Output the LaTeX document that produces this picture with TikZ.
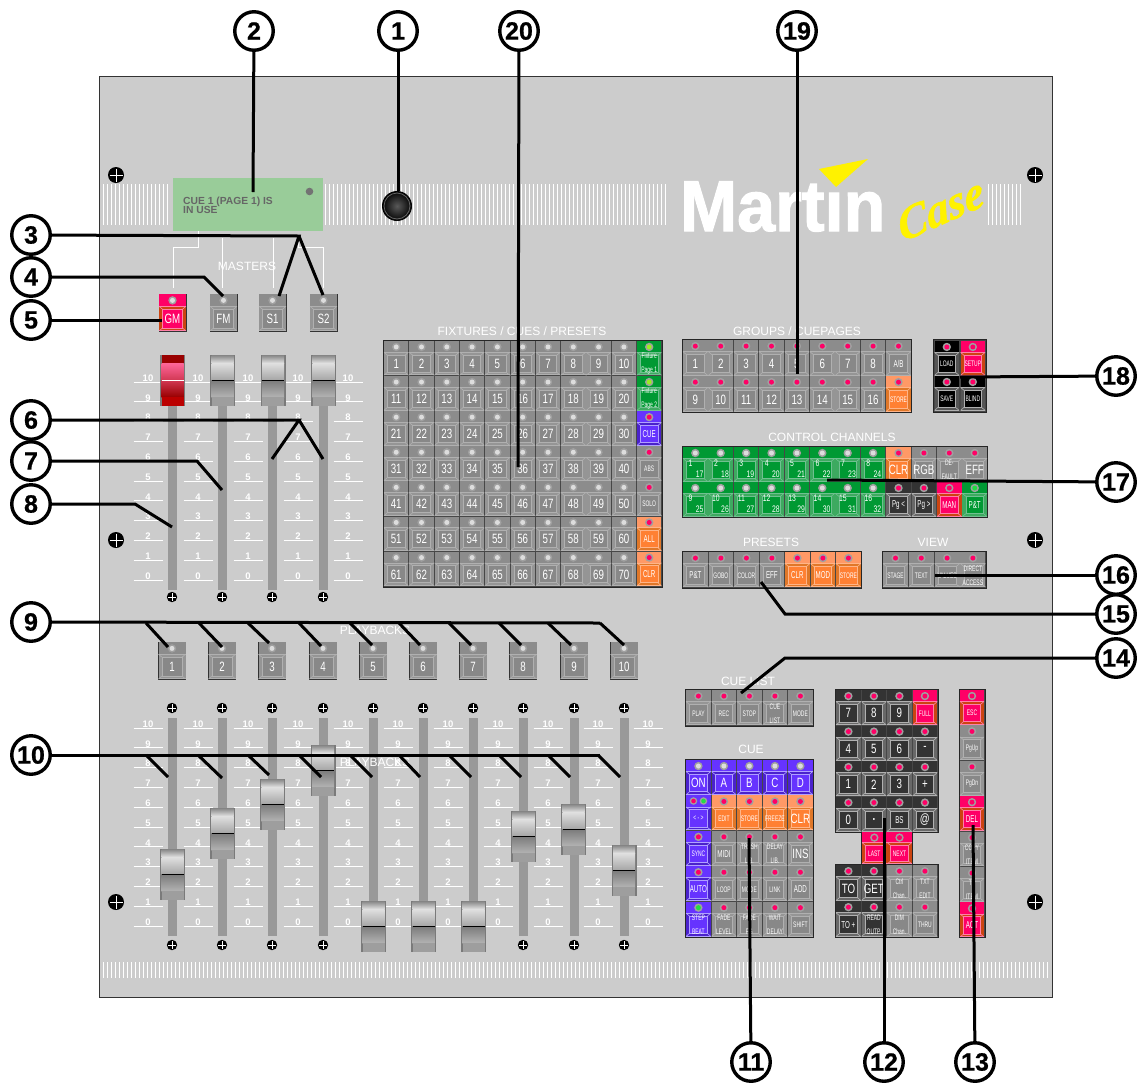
\documentclass[tikz,border=0pt]{standalone}
\usepackage{fontspec}
\setmainfont{Liberation Sans}
\newfontfamily\condf[FakeStretch=0.72]{Liberation Sans}
\newfontfamily\condn[FakeStretch=0.62]{Liberation Sans}
\newfontfamily\logof[UprightFont={* Bold},FakeBold=1.6]{Liberation Sans}
\newfontfamily\numf[UprightFont={* Bold},FakeBold=0.8]{Liberation Sans}
\newfontfamily\casef[UprightFont={* Bold Italic},FakeBold=1.2,FakeSlant=0.2]{Liberation Serif}
\usetikzlibrary{calc}
\definecolor{panelc}{HTML}{CCCCCC}
% schemes: T top band, B body, F face, E face edge
\definecolor{grayT}{HTML}{8C8C8C}\definecolor{grayB}{HTML}{959595}\definecolor{grayF}{HTML}{888888}\definecolor{grayE}{HTML}{B0B0B0}
\definecolor{greenT}{HTML}{009933}\definecolor{greenB}{HTML}{3DAA60}\definecolor{greenF}{HTML}{009933}\definecolor{greenE}{HTML}{70C090}
\definecolor{purpT}{HTML}{6633FF}\definecolor{purpB}{HTML}{4A22CC}\definecolor{purpF}{HTML}{6633FF}\definecolor{purpE}{HTML}{B0A0FF}
\definecolor{oranT}{HTML}{FF9966}\definecolor{oranB}{HTML}{E07728}\definecolor{oranF}{HTML}{FF8033}\definecolor{oranE}{HTML}{FFB488}
\definecolor{pinkT}{HTML}{FF0066}\definecolor{pinkB}{HTML}{CC4411}\definecolor{pinkF}{HTML}{FF0066}\definecolor{pinkE}{HTML}{FF80A8}
\definecolor{darkT}{HTML}{333333}\definecolor{darkB}{HTML}{686868}\definecolor{darkF}{HTML}{333333}\definecolor{darkE}{HTML}{B0B0B0}
\definecolor{blakT}{HTML}{000000}\definecolor{blakB}{HTML}{555555}\definecolor{blakF}{HTML}{000000}\definecolor{blakE}{HTML}{B0B0B0}
\definecolor{ledG}{HTML}{DDDDDD}\definecolor{ledP}{HTML}{FF0066}\definecolor{ledL}{HTML}{99EE22}\definecolor{ledV}{HTML}{22DD44}\definecolor{ledR}{HTML}{A0A0A0}
\definecolor{dispc}{HTML}{99CC99}
\newcounter{bn}
\newcommand\smf{\condn\fontsize{8}{8.6}\selectfont}
\newcommand\mdf{\condn\fontsize{10}{10.5}\selectfont}
\newcommand\twol[2]{\smf #1\\\smf #2}
\tikzset{
  x=1pt,y=-1pt,
  btxt/.style={text=white,font=\condf\fontsize{13.5}{14}\selectfont,inner sep=0pt,align=center},
  head/.style={text=white,font=\fontsize{12}{13}\selectfont,inner sep=0pt},
  callout/.style={circle,draw=black,line width=3.4pt,fill=white,minimum size=38.5pt,inner sep=0pt,font=\numf\fontsize{25}{25}\selectfont},
  lead/.style={draw=black,line width=3pt,line join=miter},
  wire/.style={draw=white,line width=1pt},
  grp/.style={fill=black!72,draw=black!85,line width=1pt},
  sclab/.style={text=white,font=\bfseries\fontsize{9.5}{10}\selectfont,inner sep=0pt},
}
% x y w h scheme led label
\newcommand\Btn[7]{%
  \stepcounter{bn}%
  \colorlet{curT}{#5T}\colorlet{curB}{#5B}\colorlet{curF}{#5F}\colorlet{curE}{#5E}%
  \fill[curB] (#1,#2) rectangle ++(#3,#4);
  \fill[curT] (#1,#2) rectangle ++(#3,0.33*#4);
  \draw[curE,line width=.6pt] (#1,#2+#4-.5) -- ++(#3,0);
  \draw[curE,line width=.6pt] (#1,#2+0.33*#4) -- ++(#3,0);
  \fill[curF] (#1+3.5,#2+0.33*#4+3) rectangle (#1+#3-3.5,#2+#4-3);
  \draw[curE,line width=.8pt] (#1+3.5,#2+0.33*#4+3) rectangle (#1+#3-3.5,#2+#4-3);
  \draw[curE,line width=.6pt] (#1,#2+0.33*#4) -- ++(3.5,3) (#1+#3,#2+0.33*#4) -- ++(-3.5,3)
     (#1,#2+#4) -- ++(3.5,-3) (#1+#3,#2+#4) -- ++(-3.5,-3);
  \fill[ledR] (#1+0.5*#3,#2+0.165*#4+.3) circle (4.2);
  \fill[#6] (#1+0.5*#3,#2+0.165*#4+.3) circle (2.5);
  \node[btxt] (b\arabic{bn}) at (#1+0.5*#3,#2+0.665*#4) {#7};
}
\newcommand\ChBtn[6]{%
  \Btn{#1}{#2}{#3}{#4}{green}{ledG}{}
  \node[btxt,font=\condf\fontsize{9.5}{10}\selectfont] (ba\arabic{bn}) at (#1+7.5,#2+16) {#5};
  \node[btxt,font=\condf\fontsize{9.5}{10}\selectfont] (bc\arabic{bn}) at (#1+#3-8,#2+27.5) {#6};
}
% x top
\newcommand\Cap[2]{%
  \fill[black!52] (#1-12.5,#2) rectangle ++(25,50.5);
  \shade[top color=black!48,bottom color=black!12] (#1-11,#2) rectangle (#1+11,#2+8);
  \shade[top color=black!12,bottom color=black!35] (#1-11,#2+8) rectangle (#1+11,#2+25);
  \shade[top color=black!52,bottom color=black!30] (#1-11,#2+25) rectangle (#1+11,#2+42);
  \fill[black!38] (#1-11,#2+42) rectangle (#1+11,#2+50.5);
  \draw[black,line width=1pt] (#1-11,#2+25.5) -- (#1+11,#2+25.5);
}
\definecolor{capa}{HTML}{FF6699}\definecolor{capb}{HTML}{990000}\definecolor{capc}{HTML}{BB0000}
\newcommand\RedCap[2]{%
  \fill[black!52] (#1-12.5,#2) rectangle ++(25,50.5);
  \fill[capb] (#1-11,#2) rectangle (#1+11,#2+8);
  \shade[top color=capa,bottom color=capa!55!capb] (#1-11,#2+8) rectangle (#1+11,#2+25);
  \shade[top color=capa!55!capb,bottom color=capb] (#1-11,#2+25) rectangle (#1+11,#2+42);
  \fill[capc] (#1-11,#2+42) rectangle (#1+11,#2+50.5);
  \draw[white,line width=.6pt] (#1-11,#2+25.5) -- (#1+11,#2+25.5);
}
\newcommand\Scale[2]{%
  \foreach \n in {0,...,10}{%
    \pgfmathsetmacro\yy{#2+19.8*(10-\n)}%
    \node[sclab] at (#1,\yy) {\n};
    \draw[white,line width=.8pt] (#1-14.5,\yy+4) -- ++(29.5,0);
  }%
}
\newcommand\Screw[3][5.2]{%
  \fill[black] (#2,#3) circle (#1);
  \draw[white,line width=.8pt] (#2-#1+1.5,#3) -- (#2+#1-1.5,#3) (#2,#3-#1+1.5) -- (#2,#3+#1-1.5);
}
\begin{document}
\begin{tikzpicture}
\useasboundingbox (0,0) rectangle (1142,1082);
\fill[white] (0,0) rectangle (1142,1082);
\draw[fill=panelc,draw=black!80,line width=.8pt] (99,76) rectangle (1052,997);
% tick strips
\foreach \x in {103,107,...,170,325,329,...,666,988,992,...,1020} \draw[white,line width=1pt] (\x,184) -- (\x,225);
\foreach \x in {103,107,...,1049} \draw[white,line width=1pt] (\x,962) -- (\x,978);
% screws
\foreach \x/\y in {116/175,1035/175,116/540,1035/540,116/902,1035/902} {\Screw[8]{\x}{\y}}
\foreach \x in {172,222,272,323} {\Screw{\x}{597}}
\foreach \x in {172,222,272,323,373,423,473,523,574,624} {\Screw{\x}{708}\Screw{\x}{945}}
% display
\fill[dispc] (173,178) rectangle (323,231);
\node[inner sep=0pt,anchor=north west,align=left,text=black!60,font=\bfseries\fontsize{10.3}{9.4}\selectfont] (dtext) at (183,196.5) {CUE 1 (PAGE 1) IS\\IN USE};
\fill[black!55] (309.5,191.5) circle (3.8);
% master wires
\draw[wire] (198,231) -- (198,247) -- (173,247) -- (173,288);
\draw[wire] (222,238) -- (222,288);
\draw[wire] (273,238) -- (273,288);
\draw[wire] (298,238) -- (298,247) -- (323,247) -- (323,288);
\node[head] (mast) at (247,266) {MASTERS};
% knob
\shade[inner color=black!65,outer color=black] (397,206) circle (15);
\draw[black!60,line width=.8pt] (397,206) circle (13);
% logo
\node[inner sep=0pt,anchor=base west,text=white,font=\logof\fontsize{72}{72}\selectfont,xscale=.95,transform shape] (logo) at (680,231) {Martin};
\fill[panelc] (826,170) rectangle (858,192);
\fill[yellow] (819,169) -- (868,159) -- (836,187) -- cycle;
\node[inner sep=0pt,text=yellow,rotate=24,font=\casef\fontsize{46}{46}\selectfont] (case) at (938,210) {Case};
% master buttons
\foreach \x/\s/\t in {159/pink/GM,210/gray/FM,259/gray/S1,310/gray/S2}{
  \draw[black!80,line width=.8pt] (\x,294) rectangle ++(27,37);
  \Btn{\x}{294}{27}{37}{\s}{ledG}{\t}
}
% tracks + scales masters
\foreach \x in {172,222,272,323} \fill[black!40] (\x-4.5,358) rectangle (\x+4.5,590);
\foreach \c in {148,198,248,298,348} {\Scale{\c}{378}}
\RedCap{172.5}{355}
\Cap{222.5}{355}\Cap{273}{355}\Cap{323.5}{355}
% playback
\foreach \x in {172,222,272,323,373,423,473,523,574,624} {
  \fill[black!40] (\x-4.5,718) rectangle (\x+4.5,936);
}
\foreach \c in {148,198,...,648} {\Scale{\c}{724}}
\foreach \x/\t in {172/1,222/2,272/3,323/4,373/5,423/6,473/7,523/8,574/9,624/10}{
  \draw[black!80,line width=.8pt] (\x-13.5,642) rectangle ++(27,37);
  \Btn{\x-13.5}{642}{27}{37}{gray}{ledG}{\t}
}
\node[head] (pb1) at (375,630) {PLAYBACKS};
\node[head] (pb2) at (375,762) {PLAYBACKS};
\foreach \x/\y in {172.5/849,222.5/808,272.5/779,323/745,373.5/901,423.5/901,473.5/901,523.5/811,573.5/804,624/845} {\Cap{\x}{\y}}
% Fixtures
\node[head] (hf) at (522,331) {FIXTURES / CUES / PRESETS};
\fill[grp] (383,340) rectangle (662,587);
\foreach \r in {0,...,6}{
  \foreach \c in {0,...,9}{
    \pgfmathtruncatemacro\nn{\r*10+\c+1}
    \pgfmathsetmacro\xx{384+25.3*\c}
    \pgfmathsetmacro\yy{341+35.1*\r}
    \Btn{\xx}{\yy}{24.4}{34.2}{gray}{ledG}{\nn}
  }
}
\foreach \r/\s/\l/\t in {0/green/ledL/{\twol{Fixture}{Page 1}},1/green/ledL/{\twol{Fixture}{Page 2}},2/purp/ledP/{\mdf CUE},3/gray/ledP/{\smf ABS},4/gray/ledP/{\smf SOLO},5/oran/ledP/{\mdf ALL},6/oran/ledP/{\mdf CLR}}{
  \pgfmathsetmacro\yy{341+35.1*\r}
  \Btn{637}{\yy}{24.4}{34.2}{\s}{\l}{\t}
}
% Groups
\node[head] (hg) at (797,331) {GROUPS / CUEPAGES};
\fill[grp] (682,339) rectangle (911,412);
\foreach \c/\t in {0/1,1/2,2/3,3/4,4/5,5/6,6/7,7/8,8/{\mdf A/B}}{
  \pgfmathsetmacro\xx{683+25.4*\c}
  \Btn{\xx}{340}{24.6}{35.4}{gray}{ledP}{\t}
}
\foreach \c/\s/\t in {0/gray/9,1/gray/10,2/gray/11,3/gray/12,4/gray/13,5/gray/14,6/gray/15,7/gray/16,8/oran/{\smf STORE}}{
  \pgfmathsetmacro\xx{683+25.4*\c}
  \Btn{\xx}{376}{24.6}{35.4}{\s}{ledP}{\t}
}
% small black group
\fill[grp] (933,339) rectangle (986,412);
\Btn{934.5}{341}{24.6}{34.4}{blak}{ledP}{\smf LOAD}
\Btn{960.5}{341}{24.6}{34.4}{pink}{ledP}{\smf SETUP}
\Btn{934.5}{376}{24.6}{34.4}{blak}{ledP}{\smf SAVE}
\Btn{960.5}{376}{24.6}{34.4}{blak}{ledP}{\smf BLIND}
% Control channels
\node[head] (hc) at (832,437) {CONTROL CHANNELS};
\fill[grp] (682,446) rectangle (987,517);
\foreach \c/\a/\b in {0/1/17,1/2/18,2/3/19,3/4/20,4/5/21,5/6/22,6/7/23,7/8/24}{
  \pgfmathsetmacro\xx{683+25.4*\c}
  \ChBtn{\xx}{447}{24.6}{34.6}{\a}{\b}
}
\foreach \c/\a/\b in {0/9/25,1/10/26,2/11/27,3/12/28,4/13/29,5/14/30,6/15/31,7/16/32}{
  \pgfmathsetmacro\xx{683+25.4*\c}
  \ChBtn{\xx}{482}{24.6}{34.6}{\a}{\b}
}
\foreach \c/\s/\l/\t in {8/oran/ledP/CLR,9/gray/ledP/RGB,10/gray/ledP/{\twol{DE-}{FAULT}},11/gray/ledP/EFF}{
  \pgfmathsetmacro\xx{683+25.4*\c}
  \Btn{\xx}{447}{24.6}{34.6}{\s}{\l}{\t}
}
\foreach \c/\s/\l/\t in {8/dark/ledP/{\mdf Pg <},9/dark/ledP/{\mdf Pg >},10/pink/ledP/{\mdf MAN},11/green/ledV/{\mdf P\&T}}{
  \pgfmathsetmacro\xx{683+25.4*\c}
  \Btn{\xx}{482}{24.6}{34.6}{\s}{\l}{\t}
}
% Presets
\node[head] (hp) at (771,542) {PRESETS};
\fill[grp] (682,551) rectangle (861,588);
\foreach \c/\s/\t in {0/gray/{\mdf P\&T},1/gray/{\smf GOBO},2/gray/{\smf COLOR},3/gray/{\mdf EFF},4/oran/{\mdf CLR},5/oran/{\mdf MOD},6/oran/{\smf STORE}}{
  \pgfmathsetmacro\xx{683+25.5*\c}
  \Btn{\xx}{552}{24.8}{35}{\s}{ledP}{\t}
}
% View
\node[head] (hv) at (933,542) {VIEW};
\fill[grp] (882,551) rectangle (986,588);
\foreach \c/\t in {0/{\smf STAGE},1/{\smf TEXT},2/{\smf VALUES},3/{\twol{DIRECT}{ACCESS}}}{
  \pgfmathsetmacro\xx{883+25.8*\c}
  \Btn{\xx}{552}{25}{35}{gray}{ledP}{\t}
}
% Cue list
\node[head] (hl) at (748,681) {CUE LIST};
\fill[grp] (685,689) rectangle (813,726);
\foreach \c/\t in {0/{\smf PLAY},1/{\smf REC},2/{\smf STOP},3/{\twol{CUE}{LIST}},4/{\smf MODE}}{
  \pgfmathsetmacro\xx{686+25.5*\c}
  \Btn{\xx}{690}{24.8}{35}{gray}{ledP}{\t}
}
% Cue
\node[head] (hq) at (751,749) {CUE};
\fill[grp] (685,759) rectangle (813,937);
\foreach \c/\t in {0/ON,1/A,2/B,3/C,4/D}{
  \pgfmathsetmacro\xx{686+25.5*\c}
  \Btn{\xx}{760}{24.8}{34.8}{purp}{ledG}{\t}
}
\foreach \c/\s/\t in {0/purp/{\smf < - >},1/oran/{\smf EDIT},2/oran/{\smf STORE},3/oran/{\smf FREEZE},4/oran/CLR}{
  \pgfmathsetmacro\xx{686+25.5*\c}
  \Btn{\xx}{795.4}{24.8}{34.8}{\s}{ledP}{\t}
}
\fill[purpT] (687,796) rectangle (710,806);
\fill[ledR] (693.5,801) circle (3.8);\fill[ledP] (693.5,801) circle (2.3);
\fill[ledR] (703.5,801) circle (3.8);\fill[ledV] (703.5,801) circle (2.3);
\foreach \c/\s/\t in {0/purp/{\smf SYNC},1/gray/{\mdf MIDI},2/gray/{\twol{TRASH}{LIB.}},3/gray/{\twol{DELAY}{LIB.}},4/gray/INS}{
  \pgfmathsetmacro\xx{686+25.5*\c}
  \Btn{\xx}{830.8}{24.8}{34.8}{\s}{ledP}{\t}
}
\foreach \c/\s/\t in {0/purp/{\mdf AUTO},1/gray/{\smf LOOP},2/gray/{\smf MODE},3/gray/{\smf LINK},4/gray/{\mdf ADD}}{
  \pgfmathsetmacro\xx{686+25.5*\c}
  \Btn{\xx}{866.2}{24.8}{34.8}{\s}{ledP}{\t}
}
\foreach \c/\s/\l/\t in {0/purp/ledV/{\twol{STEP}{BEAT}},1/gray/ledP/{\twol{FADE}{LEVEL}},2/gray/ledP/{\twol{FADE}{FG}},3/gray/ledP/{\twol{WAIT}{DELAY}},4/gray/ledP/{\smf SHIFT}}{
  \pgfmathsetmacro\xx{686+25.5*\c}
  \Btn{\xx}{901.6}{24.8}{34.8}{\s}{\l}{\t}
}
% Keypad
\fill[grp] (835,689) rectangle (938,832);
\fill[grp] (861.5,832) rectangle (912,865);
\fill[grp] (835,864) rectangle (938,937);
\foreach \r/\y/\a/\b/\cc/\d/\s in {0/690/7/8/9/{\smf FULL}/pink,1/725.5/4/5/6/-/dark,2/761/1/2/3/+/dark,3/796.5/0/{\textbf{.}}/{\mdf BS}/@/dark}{
  \Btn{836}{\y}{24.8}{35}{dark}{ledP}{\a}
  \Btn{861.5}{\y}{24.8}{35}{dark}{ledP}{\b}
  \Btn{887}{\y}{24.8}{35}{dark}{ledP}{\cc}
  \Btn{912.5}{\y}{24.8}{35}{\s}{ledP}{\d}
}
\Btn{862}{832}{24.6}{32}{pink}{ledP}{\smf LAST}
\Btn{887.2}{832}{24.6}{32}{pink}{ledP}{\smf NEXT}
\Btn{836}{865}{24.8}{35.5}{dark}{ledP}{TO}
\Btn{861.5}{865}{24.8}{35.5}{dark}{ledP}{GET}
\Btn{887}{865}{24.8}{35.5}{gray}{ledP}{\twol{Ctrl}{Chan.}}
\Btn{912.5}{865}{24.8}{35.5}{gray}{ledP}{\twol{TXT}{EDIT}}
\Btn{836}{901}{24.8}{35.5}{dark}{ledP}{\mdf TO +}
\Btn{861.5}{901}{24.8}{35.5}{dark}{ledP}{\twol{READ}{OUTP.}}
\Btn{887}{901}{24.8}{35.5}{gray}{ledP}{\twol{DIM}{Chan.}}
\Btn{912.5}{901}{24.8}{35.5}{gray}{ledP}{\smf THRU}
% right column
\fill[grp] (959,689) rectangle (985,937);
\foreach \r/\s/\t in {0/pink/{\smf ESC},1/gray/{\smf PgUp},2/gray/{\smf PgDn},3/pink/{\mdf DEL},4/gray/{\twol{COPY}{ITEM}},5/gray/{\twol{TX}{ITEM}},6/pink/{\mdf ACT}}{
  \pgfmathsetmacro\yy{690+35.4*\r}
  \Btn{960}{\yy}{24}{34.6}{\s}{ledP}{\t}
}
% callouts
\foreach \n/\x/\y in {c1/398/31,c2/254/31,c20/519/31,c19/797/31,c3/31/235,c4/31/277,c5/31/320,c6/31/420,c7/31/461,c8/31/504,c9/31/622,c10/31/755,c18/1116/376,c17/1116/482,c16/1116/575,c15/1116/614,c14/1116/658,c11/751/1062,c12/884/1062,c13/975/1062}
  \coordinate (p\n) at (\x,\y);
% end coordinates
\coordinate (e1) at (398,191);\coordinate (e2) at (253,192);\coordinate (e20) at (518,467);\coordinate (e19) at (797,374);
\coordinate (a3) at (299,236);\coordinate (e3a) at (279,296);\coordinate (e3b) at (323,295);
\coordinate (k4) at (204,277);\coordinate (e4) at (223,296);
\coordinate (e5) at (162,320);
\coordinate (a6) at (299,420);\coordinate (e6a) at (272,459);\coordinate (e6b) at (323,459);
\coordinate (k7) at (197,461);\coordinate (e7) at (222,490);
\coordinate (k8) at (135,504);\coordinate (e8) at (172,527);
\coordinate (e18) at (960,377);\coordinate (e17) at (827,480);\coordinate (e16) at (935,575);
\coordinate (k15) at (785,614);\coordinate (e15) at (761,582);
\coordinate (k14) at (785,658);\coordinate (e14) at (741,693);
\coordinate (e11) at (749,838);\coordinate (e12) at (884,818);\coordinate (e13) at (973,825);
\coordinate (a9) at (600,623);\coordinate (a10) at (600,755);
\draw[lead] (pc1) -- (e1);\draw[lead] (pc2) -- (e2);\draw[lead] (pc20) -- (e20);\draw[lead] (pc19) -- (e19);
\draw[lead] (pc3) -- (a3) -- (e3a);\draw[lead] (a3) -- (e3b);
\draw[lead] (pc4) -- (k4) -- (e4);
\draw[lead] (pc5) -- (e5);
\draw[lead] (pc6) -- (a6) -- (e6a);\draw[lead] (a6) -- (e6b);
\draw[lead] (pc7) -- (k7) -- (e7);
\draw[lead] (pc8) -- (k8) -- (e8);
\draw[lead] (pc9) -- (a9);
\draw[lead] (pc10) -- (a10);
\foreach \a/\bx/\by in {146/168/647,199/222/647,248/269/643,299/321/646,350/372/645,399/420/645,449/471/645,499/521/645,548/571/645,600/624/645}{
  \draw[lead] (\a,623) -- (\bx,\by);
}
\foreach \a/\bx/\by in {146/168/777,198/222/778,248/269/775,299/321/777,350/372/777,399/420/777,449/471/777,499/521/777,548/570/777,598/620/777}{
  \draw[lead] (\a,755) -- (\bx,\by);
}
\draw[lead] (pc18) -- (e18);\draw[lead] (pc17) -- (e17);\draw[lead] (pc16) -- (e16);
\draw[lead] (pc15) -- (k15) -- (e15);
\draw[lead] (pc14) -- (k14) -- (e14);
\draw[lead] (pc11) -- (e11);\draw[lead] (pc12) -- (e12);\draw[lead] (pc13) -- (e13);
\foreach \n/\t in {c1/1,c2/2,c20/20,c19/19,c3/3,c4/4,c5/5,c6/6,c7/7,c8/8,c9/9,c10/10,c18/18,c17/17,c16/16,c15/15,c14/14,c11/11,c12/12,c13/13}
  \node[callout] (\n) at (p\n) {\t};
\end{tikzpicture}
\end{document}
